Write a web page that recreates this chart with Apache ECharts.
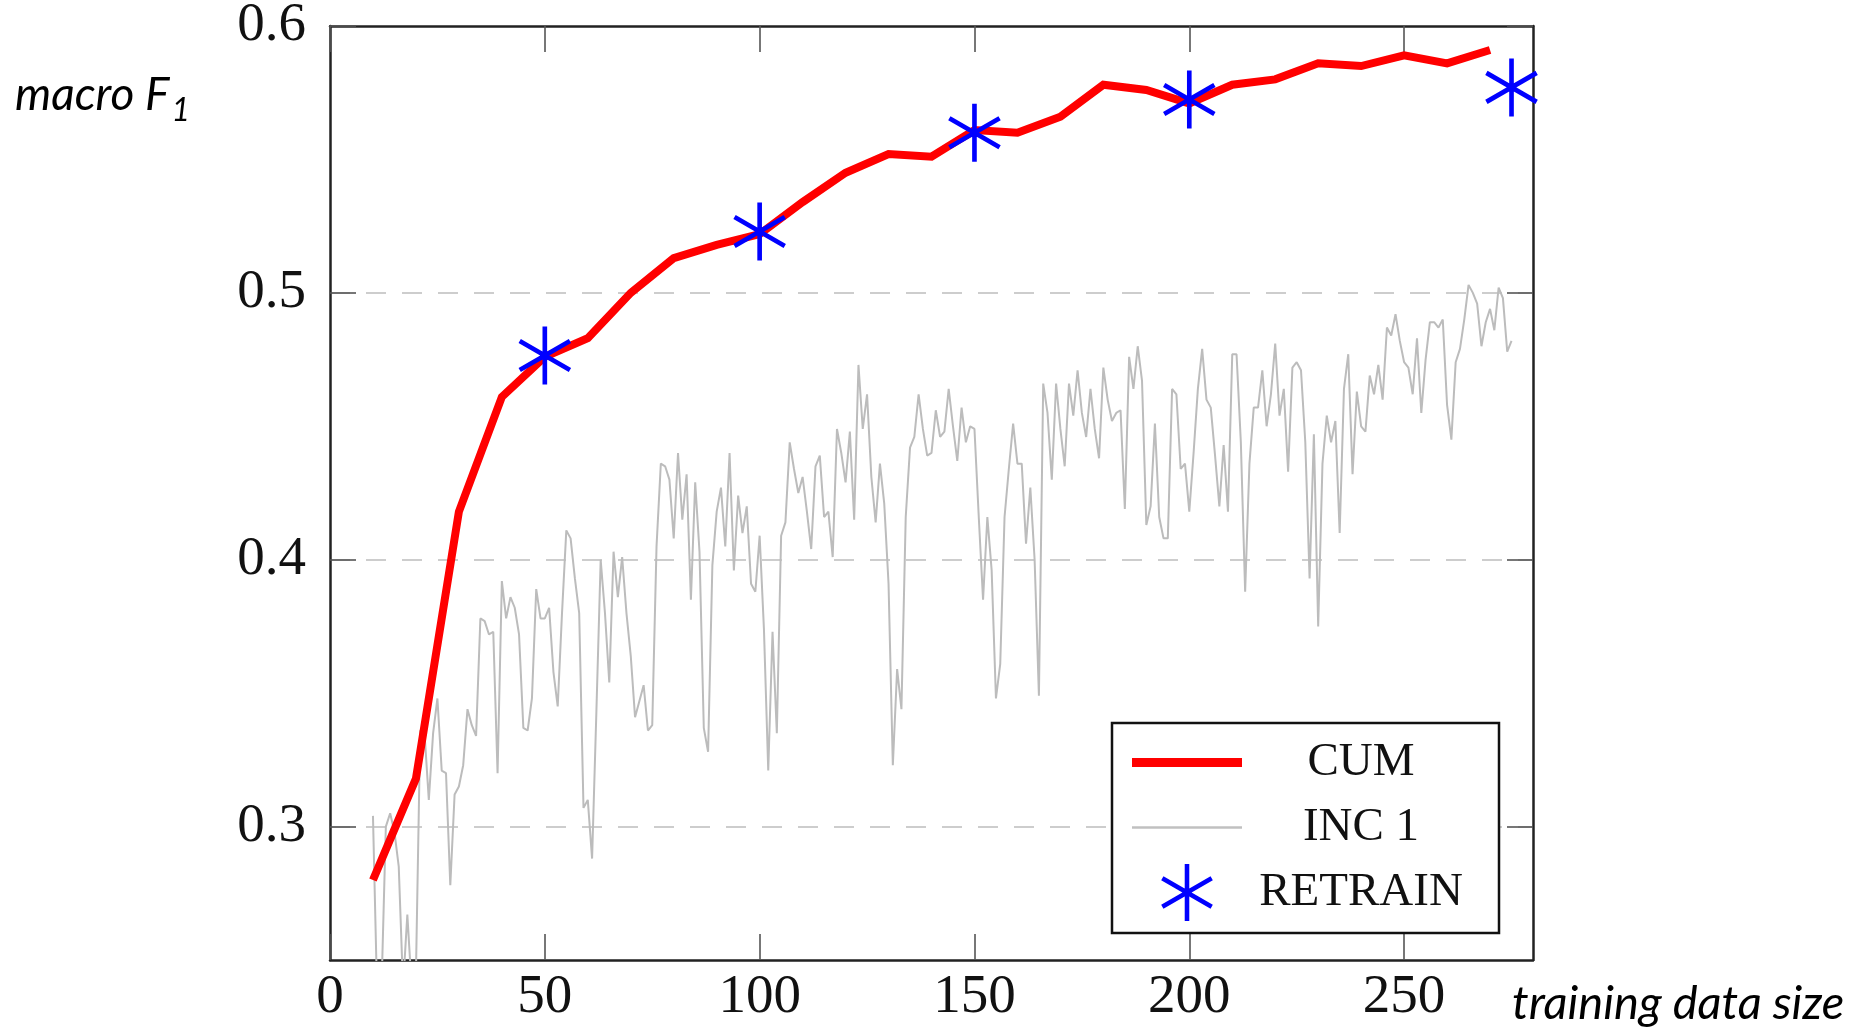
<!DOCTYPE html>
<html>
<head>
<meta charset="utf-8">
<script src="https://cdn.jsdelivr.net/npm/echarts@6/dist/echarts.min.js"></script>
<style>
html,body{margin:0;padding:0;background:#fff;}
#chart{width:1863px;height:1029px;}
</style>
</head>
<body>
<div id="chart"></div>
<script>
// ---- data ----
var cumSizes = [10,20,30,40,50,60,70,80,90,100,110,120,130,140,150,160,170,180,190,200,210,220,230,240,250,260,270];
var cumValues = [0.280,0.318,0.418,0.461,0.476,0.483,0.500,0.513,0.518,0.522,0.534,0.545,0.552,0.551,0.561,0.560,0.566,0.578,0.576,0.571,0.578,0.580,0.586,0.585,0.589,0.586,0.591];

var retrainSizes = [50,100,150,200,275];
var retrainValues = [0.4765,0.523,0.560,0.5725,0.577];

var incStart = 10; // first training size of INC 1, one value per size
var incValues = [
0.304,0.235,0.240,0.300,0.305,0.298,0.285,0.240,0.267,0.240,
0.245,0.336,0.335,0.310,0.335,0.348,0.321,0.320,0.278,0.312,
0.315,0.323,0.344,0.338,0.334,0.378,0.377,0.372,0.373,0.320,
0.392,0.378,0.386,0.382,0.372,0.337,0.336,0.348,0.389,0.378,
0.378,0.382,0.358,0.345,0.380,0.411,0.408,0.393,0.380,0.307,
0.310,0.288,0.343,0.400,0.380,0.354,0.403,0.386,0.401,0.380,
0.364,0.341,0.347,0.353,0.336,0.338,0.405,0.436,0.435,0.430,
0.408,0.440,0.415,0.432,0.385,0.429,0.403,0.337,0.328,0.398,
0.418,0.427,0.405,0.440,0.396,0.424,0.410,0.420,0.391,0.388,
0.409,0.374,0.321,0.373,0.335,0.409,0.414,0.444,0.434,0.425,
0.431,0.418,0.404,0.435,0.439,0.416,0.418,0.401,0.449,0.440,
0.429,0.448,0.415,0.473,0.449,0.462,0.431,0.414,0.436,0.421,
0.391,0.323,0.359,0.344,0.416,0.442,0.446,0.462,0.449,0.439,
0.440,0.456,0.446,0.448,0.464,0.450,0.437,0.457,0.444,0.450,
0.449,0.416,0.385,0.416,0.396,0.348,0.361,0.416,0.434,0.451,
0.436,0.436,0.406,0.427,0.400,0.349,0.466,0.455,0.430,0.466,
0.449,0.435,0.466,0.454,0.471,0.455,0.446,0.464,0.449,0.438,
0.472,0.460,0.452,0.455,0.456,0.419,0.476,0.464,0.480,0.467,
0.413,0.420,0.451,0.416,0.408,0.408,0.464,0.462,0.434,0.436,
0.418,0.440,0.464,0.479,0.460,0.457,0.439,0.420,0.443,0.418,
0.477,0.477,0.444,0.388,0.436,0.457,0.457,0.471,0.450,0.462,
0.481,0.454,0.464,0.433,0.472,0.474,0.471,0.444,0.393,0.447,
0.375,0.436,0.454,0.444,0.452,0.410,0.464,0.477,0.432,0.463,
0.450,0.448,0.469,0.462,0.473,0.460,0.487,0.484,0.492,0.482,
0.474,0.472,0.462,0.483,0.455,0.475,0.489,0.489,0.487,0.490,
0.458,0.445,0.474,0.479,0.490,0.503,0.500,0.496,0.480,0.489,
0.494,0.486,0.502,0.498,0.478,0.482
];

var xTickValues = [0,50,100,150,200,250];
var yTickValues = [0.3,0.4,0.5,0.6];

// ---- build ----
var cumData = cumSizes.map(function(x,i){return [x,cumValues[i]];});
var retrainData = retrainSizes.map(function(x,i){return [x,retrainValues[i]];});
var incData = incValues.map(function(v,i){return [incStart+i,v];});

var STAR = 'path://M46,0L54,0L54,100L46,100Z M4.7,28.46L8.7,21.54L95.3,71.54L91.3,78.46Z M8.7,78.46L4.7,71.54L91.3,21.54L95.3,28.46Z';

var BORDER = {color:'#222', width:2.5};
var TICK = {color:'#555', width:1.6};
var SERIF = 'Liberation Serif';

var chart = echarts.init(document.getElementById('chart'), null, {renderer:'canvas'});
chart.setOption({
  animation:false,
  backgroundColor:'#fff',
  grid:{left:330,right:330,top:26,bottom:69,containLabel:false,outerBoundsMode:'none'},
  xAxis:[{
    type:'value', min:0, max:280, interval:50, position:'bottom',
    name:'{n|training data size}', nameLocation:'end', nameGap:-21,
    nameTextStyle:{align:'left', verticalAlign:'middle',
      rich:{n:{fontFamily:'Lato', fontStyle:'italic', fontSize:47, color:'#000', padding:[88,0,0,0]}}},
    axisLine:{show:true, onZero:false, lineStyle:BORDER},
    axisTick:{show:true, inside:true, length:26, lineStyle:TICK, customValues:xTickValues},
    axisLabel:{show:true, customValues:xTickValues, margin:10, fontFamily:SERIF, fontSize:55, color:'#111'},
    splitLine:{show:false}
  },{
    type:'value', min:0, max:280, interval:50, position:'top',
    axisLine:{show:true, onZero:false, lineStyle:BORDER},
    axisTick:{show:true, inside:true, length:26, lineStyle:TICK, customValues:xTickValues},
    axisLabel:{show:false}, splitLine:{show:false}
  }],
  yAxis:[{
    type:'value', min:0.25, max:0.6, interval:0.05, position:'left',
    name:'{a|macro F}{b|1}', nameLocation:'end', nameGap:-69,
    nameTextStyle:{align:'right', verticalAlign:'middle', padding:[0,140,0,0],
      rich:{
        a:{fontFamily:'Lato', fontStyle:'italic', fontSize:46, color:'#000'},
        b:{fontFamily:'Lato', fontStyle:'italic', fontSize:32, color:'#000', padding:[32,0,0,2]}
      }},
    axisLine:{show:true, onZero:false, lineStyle:BORDER},
    axisTick:{show:true, inside:true, length:26, lineStyle:TICK, customValues:yTickValues},
    axisLabel:{show:true, customValues:yTickValues, margin:24, fontFamily:SERIF, fontSize:55, color:'#111',
      formatter:function(v){return v.toFixed(1);}},
    splitLine:{show:true, showMaxLine:false, lineStyle:{color:'#bdbdbd', width:1.6, type:[20,16]}}
  },{
    type:'value', min:0.25, max:0.6, interval:0.05, position:'right',
    axisLine:{show:true, onZero:false, lineStyle:BORDER},
    axisTick:{show:true, inside:true, length:26, lineStyle:TICK, customValues:yTickValues},
    axisLabel:{show:false}, splitLine:{show:false}
  }],
  legend:{
    orient:'vertical', left:1112, top:723,
    padding:[11,24,12,20],
    itemWidth:110, itemHeight:57, itemGap:8,
    borderColor:'#111', borderWidth:2.5, backgroundColor:'#fff',
    data:[
      {name:'CUM', icon:'path://M0,0L110,0L110,9L0,9Z', itemStyle:{color:'#ff0000', borderWidth:0}},
      {name:'INC 1', icon:'path://M0,0L110,0L110,2.5L0,2.5Z', itemStyle:{color:'#c0c0c0', borderWidth:0}},
      {name:'RETRAIN', icon:STAR, itemStyle:{color:'#0000ff', borderWidth:0}}
    ],
    formatter:function(n){return '{t|'+n+'}';},
    textStyle:{rich:{t:{width:228, height:57, lineHeight:57, align:'center', verticalAlign:'middle', fontFamily:SERIF, fontSize:47, color:'#111'}}},
    selectedMode:false
  },
  series:[{
    name:'INC 1', type:'line', data:incData, xAxisIndex:0, yAxisIndex:0,
    symbol:'none', showSymbol:false, clip:true,
    lineStyle:{color:'#bcbcbc', width:2}, itemStyle:{color:'#bcbcbc'}, z:2
  },{
    name:'CUM', type:'line', data:cumData, xAxisIndex:0, yAxisIndex:0,
    symbol:'none', showSymbol:false, clip:true,
    lineStyle:{color:'#ff0000', width:8, join:'miter'}, itemStyle:{color:'#ff0000'}, z:3
  },{
    name:'RETRAIN', type:'scatter', data:retrainData, xAxisIndex:0, yAxisIndex:0,
    symbol:STAR, symbolSize:58, symbolKeepAspect:true, clip:false,
    itemStyle:{color:'#0000ff', opacity:1}, z:4
  }]
});
</script>
</body>
</html>
